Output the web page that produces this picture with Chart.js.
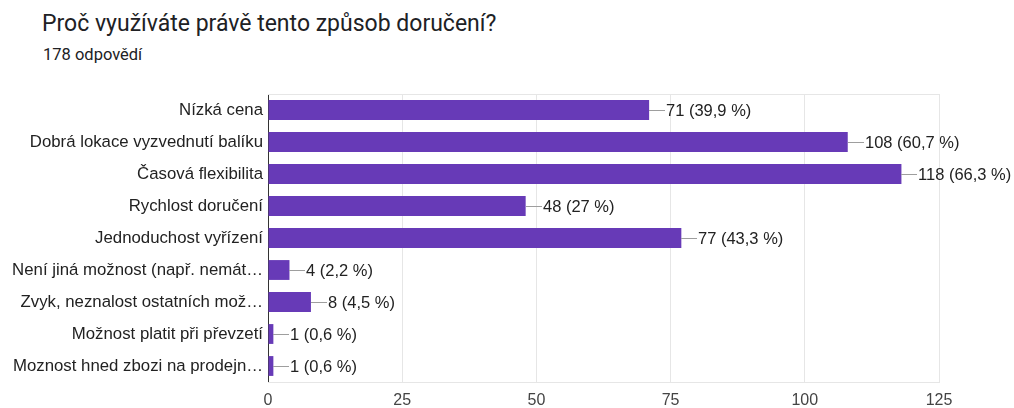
<!DOCTYPE html>
<html>
<head>
<meta charset="utf-8">
<script src="https://cdn.jsdelivr.net/npm/chart.js@4.4.0/dist/chart.umd.min.js"></script>
<style>
  html, body { margin: 0; padding: 0; background: #fff; }
  #wrap { position: relative; width: 1014px; height: 408px; overflow: hidden; }
  #title { position: absolute; left: 42px; top: 10px; font: 400 23px Roboto, sans-serif; color: #202124; white-space: nowrap; }
  #subtitle { position: absolute; left: 43px; top: 45px; font: 400 16.5px Roboto, sans-serif; color: #202124; white-space: nowrap; }
  canvas { position: absolute; left: 0; top: 0; }
</style>
</head>
<body>
<div id="wrap">
  <div id="title">Proč využíváte právě tento způsob doručení?</div>
  <div id="subtitle">178 odpovědí</div>
  <canvas id="chart" width="1014" height="408"></canvas>
</div>
<script>
// Answer options (long ones are cut off in the original, same here)
const categories = [
    'Nízká cena',
    'Dobrá lokace vyzvednutí balíku',
    'Časová flexibilita',
    'Rychlost doručení',
    'Jednoduchost vyřízení',
    'Není jiná možnost (např. nemát…',
    'Zvyk, neznalost ostatních mož…',
    'Možnost platit při převzetí',
    'Moznost hned zbozi na prodejn…'
];
const counts = [71, 108, 118, 48, 77, 4, 8, 1, 1];
const percents = ['39,9', '60,7', '66,3', '27', '43,3', '2,2', '4,5', '0,6', '0,6'];
const xTicks = [0, 25, 50, 75, 100, 125];

const labelFont = '16.5px "Liberation Sans", Arial, sans-serif';

// leader line + "n (p %)" text after every bar
const barLabels = {
    id: 'barLabels',
    afterDatasetsDraw(chart) {
        const ctx = chart.ctx;
        const meta = chart.getDatasetMeta(0);
        ctx.save();
        ctx.font = labelFont;
        ctx.textBaseline = 'middle';
        ctx.textAlign = 'left';
        meta.data.forEach(function (bar, i) {
            const x = Math.round(bar.x);
            const y = Math.round(bar.y) + 0.5;
            ctx.strokeStyle = '#9e9e9e';
            ctx.lineWidth = 1;
            ctx.beginPath();
            ctx.moveTo(x, y);
            ctx.lineTo(x + 16, y);
            ctx.stroke();
            ctx.fillStyle = '#222222';
            ctx.fillText(counts[i] + ' (' + percents[i] + ' %)', x + 17, y + 1);
        });
        ctx.restore();
    }
};

// light frame lines at top and bottom of the plot area
const frame = {
    id: 'frame',
    beforeDatasetsDraw(chart) {
        const a = chart.chartArea;
        const ctx = chart.ctx;
        ctx.save();
        ctx.strokeStyle = '#e6e6e6';
        ctx.lineWidth = 1;
        ctx.beginPath();
        ctx.moveTo(a.left, a.top + 0.5);
        ctx.lineTo(a.right + 1, a.top + 0.5);
        ctx.moveTo(a.left, a.bottom + 0.5);
        ctx.lineTo(a.right + 1, a.bottom + 0.5);
        ctx.stroke();
        ctx.restore();
    }
};

new Chart(document.getElementById('chart'), {
    type: 'bar',
    data: {
        labels: categories,
        datasets: [{
            data: counts,
            backgroundColor: '#673ab7',
            borderWidth: 0,
            barPercentage: 0.62,
            categoryPercentage: 1
        }]
    },
    options: {
        indexAxis: 'y',
        responsive: false,
        animation: false,
        layout: { padding: { top: 94, right: 75, bottom: 0, left: 0 } },
        plugins: {
            legend: { display: false },
            tooltip: { enabled: false }
        },
        scales: {
            x: {
                min: 0,
                max: 125,
                afterBuildTicks: function (scale) {
                    scale.ticks = xTicks.map(function (v) { return { value: v }; });
                },
                afterFit: function (scale) { scale.height = 26; },
                grid: { color: '#e6e6e6', drawTicks: false },
                border: { display: false },
                ticks: {
                    padding: 9,
                    color: '#444444',
                    font: { family: '"Liberation Sans", Arial, sans-serif', size: 16 }
                }
            },
            y: {
                afterFit: function (scale) { scale.width = 268; },
                grid: { display: false, drawTicks: false },
                border: { display: true, color: '#333333', width: 1 },
                ticks: {
                    padding: 5,
                    color: '#222222',
                    autoSkip: false,
                    font: { family: '"Liberation Sans", Arial, sans-serif', size: 16.8 }
                }
            }
        }
    },
    plugins: [frame, barLabels]
});
</script>
</body>
</html>
